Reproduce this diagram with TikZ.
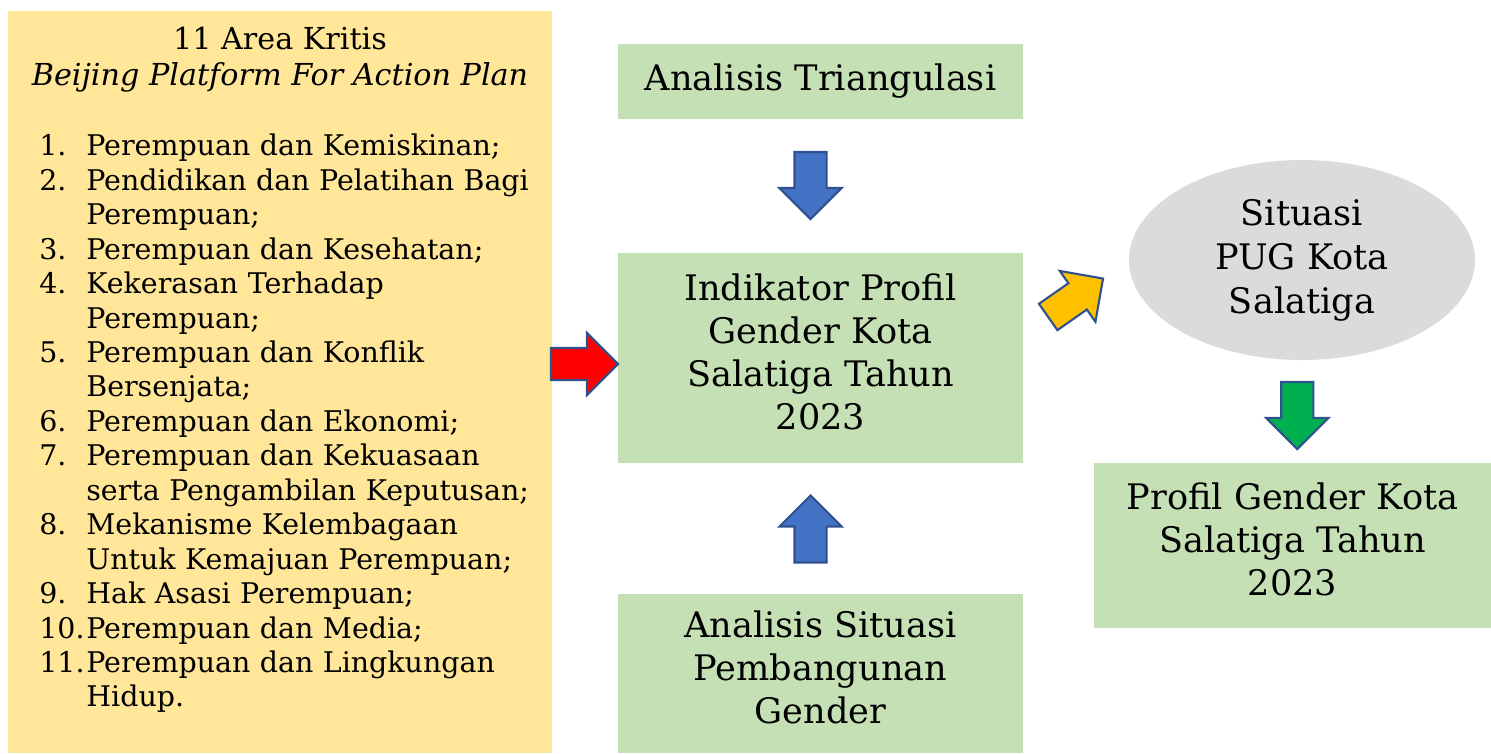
\documentclass[tikz,border=0pt]{standalone}
\usepackage{fontspec}
\setmainfont{DejaVu Serif}
\usetikzlibrary{shapes.geometric,shapes.arrows,calc}

\definecolor{areayellow}{HTML}{FFE699}
\definecolor{boxgreen}{HTML}{C5E0B4}
\definecolor{ellgray}{HTML}{DBDBDB}
\definecolor{arrowline}{HTML}{2F528F}
\definecolor{arrowblue}{HTML}{4472C4}
\definecolor{arrowred}{HTML}{FF0000}
\definecolor{arrowyellow}{HTML}{FFC000}
\definecolor{arrowgreen}{HTML}{00B050}

\newcommand{\areaitem}[2]{\par\noindent\hangindent=0.94cm\hangafter=1\makebox[0.94cm][l]{#1}#2}

\begin{document}
\begin{tikzpicture}[every node/.style={font=\fontsize{20}{25}\selectfont},
  listfont/.style={font=\fontsize{16.2}{19.6}\selectfont},
  panel/.style={fill=boxgreen,minimum width=8.1cm,align=center,inner sep=0pt},
  tallpanel/.style={panel,font=\fontsize{20}{24.5}\selectfont,execute at end node={\rule[-0.25cm]{0pt}{0pt}}},
  blockarrow/.style={single arrow,draw=arrowline,line width=1.2pt,inner sep=0.3cm,
    single arrow head extend=0.3cm,minimum height=1.34cm}]
\useasboundingbox (0,0) rectangle (29.82,-15.06);
\node[fill=areayellow,minimum width=10.88cm,minimum height=14.84cm,inner sep=0pt] (area) at (5.6,-7.64) {};
\node[font=\fontsize{17.2}{20.5}\selectfont,align=center] (areatitle) at (5.6,-1.2) {11 Area Kritis\\\textit{Beijing Platform For Action Plan}};
\node[listfont,anchor=north west,text width=10cm,align=left,inner sep=0pt] (arealist) at (0.78,-2.42) {%
\areaitem{1.}{Perempuan dan Kemiskinan;}
\areaitem{2.}{Pendidikan dan Pelatihan Bagi\newline Perempuan;}
\areaitem{3.}{Perempuan dan Kesehatan;}
\areaitem{4.}{Kekerasan Terhadap\newline Perempuan;}
\areaitem{5.}{Perempuan dan Konflik\newline Bersenjata;}
\areaitem{6.}{Perempuan dan Ekonomi;}
\areaitem{7.}{Perempuan dan Kekuasaan\newline serta Pengambilan Keputusan;}
\areaitem{8.}{Mekanisme Kelembagaan\newline Untuk Kemajuan Perempuan;}
\areaitem{9.}{Hak Asasi Perempuan;}
\areaitem{10.}{Perempuan dan Media;}
\areaitem{11.}{Perempuan dan Lingkungan\newline Hidup.}\par};
\node[panel,minimum height=1.5cm] (tri) at (16.41,-1.63) {Analisis Triangulasi};
\node[tallpanel,minimum height=4.2cm] (ind) at (16.41,-7.16) {Indikator Profil\\Gender Kota\\Salatiga Tahun\\2023};
\node[tallpanel,minimum height=3.18cm] (asp) at (16.41,-13.47) {Analisis Situasi\\Pembangunan\\Gender};
\node[ellipse,fill=ellgray,minimum width=6.92cm,minimum height=4cm,align=center,inner sep=0pt] (pug) at (26.04,-5.2) {Situasi\\PUG Kota\\Salatiga};
\node[tallpanel,minimum width=7.94cm,minimum height=3.3cm] (prof) at (25.85,-10.91) {Profil Gender Kota\\Salatiga Tahun\\2023};
% block arrows between the boxes
\node[blockarrow,fill=arrowblue,rotate=-90,xshift=-0.17cm] (triarrow) at ($(tri.south)!0.5!(ind.north)+(-0.2,0)$) {};
\node[blockarrow,fill=arrowblue,rotate=90,xshift=-0.17cm] (asparrow) at ($(asp.north)!0.5!(ind.south)+(-0.2,0)$) {};
\node[blockarrow,fill=arrowred,xshift=-0.17cm] (areaarrow) at ($(area.east |- ind.west)!0.5!(ind.west)+(0,-0.12)$) {};
\node[blockarrow,fill=arrowyellow,rotate=35,xshift=-0.17cm] (pugarrow) at ($(ind.east)!0.5!(pug.west)+(0,0.23)$) {};
\node[blockarrow,fill=arrowgreen,rotate=-90,xshift=-0.17cm] (profarrow) at ($(pug.south)!0.5!(prof.north)+(0,-0.09)$) {};
\end{tikzpicture}
\end{document}
